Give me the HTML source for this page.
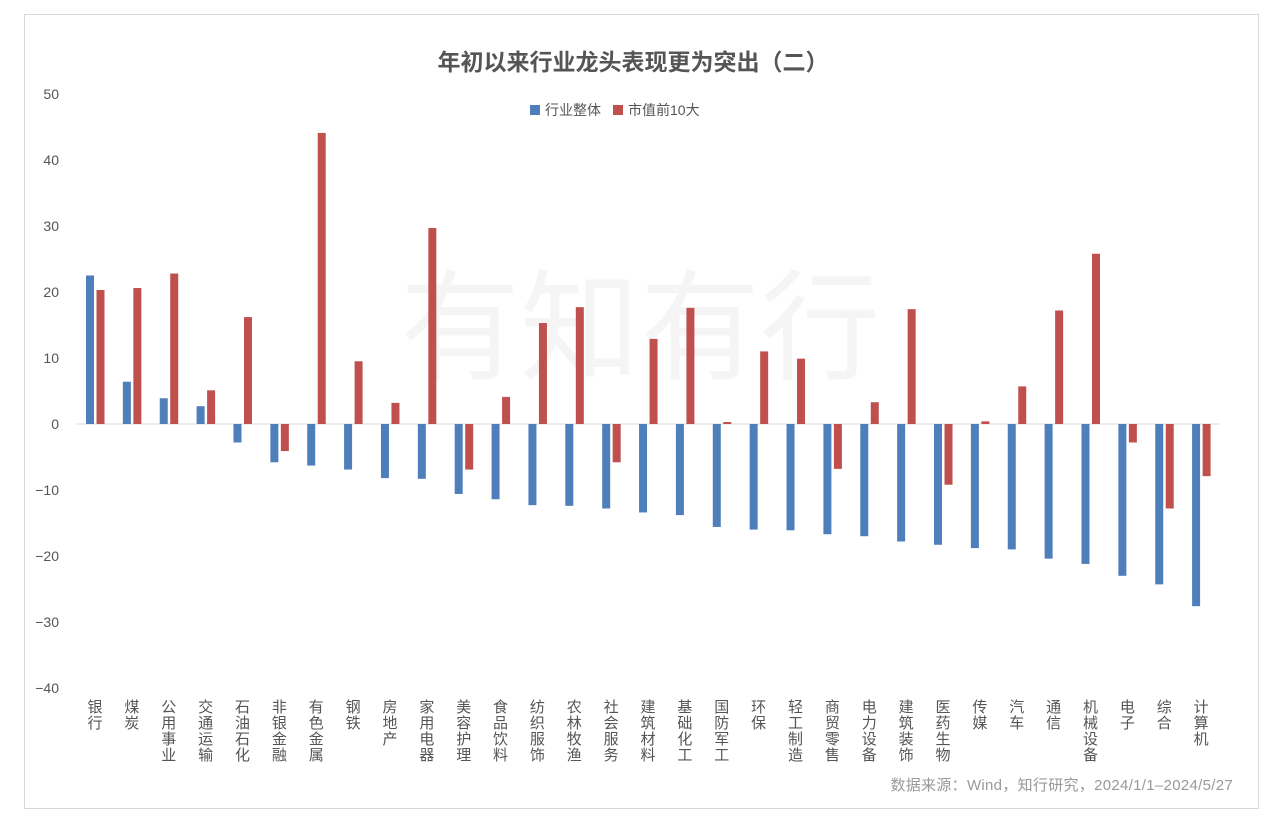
<!DOCTYPE html>
<html><head><meta charset="utf-8"><style>
body{margin:0;background:#fff;width:1280px;height:833px;overflow:hidden}
svg text{font-family:"Liberation Sans","Noto Sans CJK SC",sans-serif}
</style></head><body>
<svg width="1280" height="833" xmlns="http://www.w3.org/2000/svg">
<rect x="24.5" y="14.5" width="1234" height="794" fill="#fff" stroke="#d9d9d9"/>
<text x="633" y="70" text-anchor="middle" font-size="23" font-weight="bold" fill="#555">年初以来行业龙头表现更为突出（二）</text>
<text x="640" y="370" text-anchor="middle" font-size="120" fill="#000" opacity="0.035">有知有行</text>
<rect x="530" y="105" width="10" height="10" fill="#4f7fba"/>
<text x="545" y="115" font-size="14" fill="#555">行业整体</text>
<rect x="613" y="105" width="10" height="10" fill="#c0504d"/>
<text x="628" y="115" font-size="14" fill="#555">市值前10大</text>
<g id="y" font-size="14" fill="#555" text-anchor="end"></g>
<line x1="77" y1="424" x2="1220" y2="424" stroke="#d9d9d9"/>
<g id="bars"></g>
<g id="labels" font-size="15" fill="#555" text-anchor="middle"></g>
<text x="1233" y="790" text-anchor="end" font-size="15" fill="#999" letter-spacing="0.3">数据来源：Wind，知行研究，2024/1/1–2024/5/27</text>
</svg>
<script>
var d=[["银行",22.5,20.3],["煤炭",6.4,20.6],["公用事业",3.9,22.8],["交通运输",2.7,5.1],["石油石化",-2.8,16.2],["非银金融",-5.8,-4.1],["有色金属",-6.3,44.1],["钢铁",-6.9,9.5],["房地产",-8.2,3.2],["家用电器",-8.3,29.7],["美容护理",-10.6,-6.9],["食品饮料",-11.4,4.1],["纺织服饰",-12.3,15.3],["农林牧渔",-12.4,17.7],["社会服务",-12.8,-5.8],["建筑材料",-13.4,12.9],["基础化工",-13.8,17.6],["国防军工",-15.6,0.3],["环保",-16.0,11.0],["轻工制造",-16.1,9.9],["商贸零售",-16.7,-6.8],["电力设备",-17.0,3.3],["建筑装饰",-17.8,17.4],["医药生物",-18.3,-9.2],["传媒",-18.8,0.4],["汽车",-19.0,5.7],["通信",-20.4,17.2],["机械设备",-21.2,25.8],["电子",-23.0,-2.8],["综合",-24.3,-12.8],["计算机",-27.6,-7.9]];
var ns="http://www.w3.org/2000/svg";
function el(p,t,a,tx){var e=document.createElementNS(ns,t);for(var k in a)e.setAttribute(k,a[k]);if(tx!=null)e.textContent=tx;document.getElementById(p).appendChild(e);}
function Y(v){return 424-v*6.6;}
for(var v=50;v>=-40;v-=10)el("y","text",{x:59,y:Y(v)+5},v<0?"−"+(-v):v);
d.forEach(function(r,i){var c=95+i*36.87;
[[r[1],c-9,"#4f7fba"],[r[2],c+1.5,"#c0504d"]].forEach(function(b){var y=Math.min(Y(b[0]),424),h=Math.abs(b[0]*6.6);el("bars","rect",{x:b[1],y:y,width:8,height:Math.max(h,1),fill:b[2]});});
[...r[0]].forEach(function(ch,j){el("labels","text",{x:c,y:712+j*16},ch);});});
</script>
</body></html>
